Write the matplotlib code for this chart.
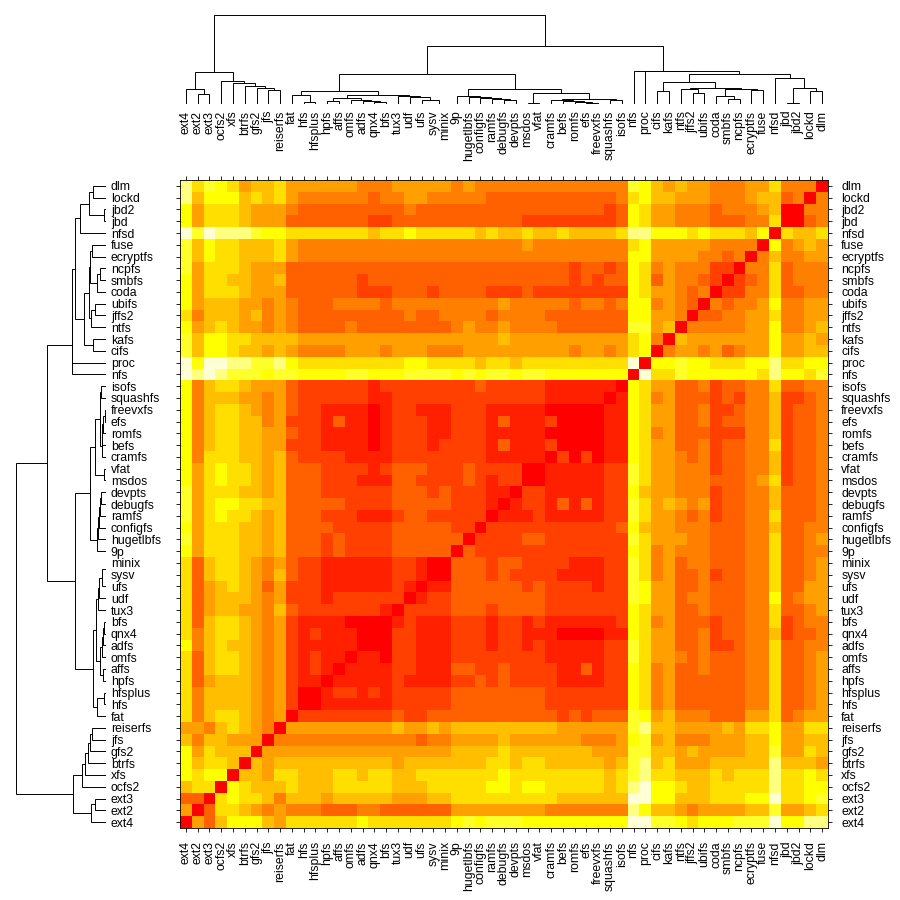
import numpy as np
import matplotlib
matplotlib.use('Agg')
import matplotlib.pyplot as plt
from matplotlib.colors import ListedColormap

plt.rcParams['font.family'] = ['Liberation Sans', 'DejaVu Sans']

# heat.colors(12), level 0 is the strongest similarity
HEAT = ['#FF0000', '#FF2000', '#FF4000', '#FF6000', '#FF8000', '#FF9F00',
        '#FFBF00', '#FFDF00', '#FFFF00', '#FFFF2A', '#FFFF80', '#FFFFD5']

# clustering tree: (left, right, merge height)
ext_group = (('ext4', ('ext2', 'ext3', 10.7), 15),
             ('ocfs2', ('xfs', ('btrfs', ('gfs2', ('jfs', 'reiserfs', 14), 16), 18), 21), 23.3), 32.3)
fat_group = ('fat', ('hfs', 'hfsplus', 2), 9)
hpfs_group = (('hpfs', 'affs', 3), ('omfs', ('adfs', ('qnx4', 'bfs', 2), 3), 4.3), 6)
tux_group = ('tux3', ('udf', ('ufs', ('sysv', 'minix', 0.3), 4.3), 7), 8.3)
disk_group = (fat_group, (hpfs_group, tux_group, 9.7), 13)
pseudo_group = ('9p', ('hugetlbfs', ('configfs', ('ramfs', ('debugfs', 'devpts', 4.5), 5.5), 6.5), 7.7), 8.7)
cram_group = (('cramfs', ('befs', ('romfs', ('efs', 'freevxfs', 1), 2.7), 3.7), 4.3),
              ('squashfs', 'isofs', 4.7), 5.7)
ro_group = (pseudo_group, (('msdos', 'vfat', 1.7), cram_group, 11.3), 15.7)
net_group = (('cifs', 'kafs', 13),
             (('ntfs', ('jffs2', 'ubifs', 11), 15),
              (('coda', ('smbfs', 'ncpfs', 5.7), 8.7), ('ecryptfs', 'fuse', 14), 15.7), 16.7), 22)
nfsd_group = ('nfsd', (('jbd', 'jbd2', 1.7), ('lockd', 'dlm', 13), 16.3), 26)
right_group = ('nfs', ('proc', (net_group, nfsd_group, 30), 33), 33.3)
TREE = (ext_group, ((disk_group, ro_group, 30.3), right_group, 57.7), 89)

# upper triangle of the matrix, row by row from ext4, each row starts on the diagonal
LEVELS = [
    '0536888657 7777787777 7778989998 88888888bb 9987888999 b88aa',
    '037765454 4433344333 3335555555 54444444a8 6654555566 95567',
    '07877646 6656666655 5667777777 77666666bb 8866677788 b7789',
    '0876667 6667777766 6777778878 87777767ab 8876677777 a7788',
    '066577 6667767766 7777777877 777777679a 7766676777 a7787',
    '06566 6666666656 6666667767 766666569a 6755566666 a6665',
    '0555 5555555555 5556666766 6666655599 6656555566 95576',
    '044 4444444444 3445555655 5555444589 5644455566 85566',
    '05 5555555565 5656666666 665555559a 6655556577 85577',
    '0 2222222232 2333333333 3323233398 5644433355 73455',
    '0011111122 2223333333 3222222287 4533333344 73345',
    '012212122 2223333333 3222222287 4533333344 73345',
    '01111121 1112232322 2211112287 4533333344 73345',
    '0111122 1113322322 2211312287 4533433344 73345',
    '011022 1112222222 2111112297 5543433344 73345',
    '00022 1112221221 2111112297 5533422344 73344',
    '0022 1112221221 1100001187 5533423344 62334',
    '012 1112221221 2111111287 4533323344 72344',
    '02 2223332333 3222222287 5533433344 73345',
    '0 1223333333 3222222298 5534433344 83455',
    '0113333332 3222212298 5533433344 73355',
    '003332322 2211112297 4533423344 73345',
    '03332332 2221112297 4534433344 73345',
    '0322222 2222222287 4544433344 73344',
    '022223 3222222297 5554433344 73345',
    '02222 2222222386 5544433344 63344',
    '0111 2111112297 5543423344 73334',
    '012 2131312297 5654523344 63334',
    '02 2111112286 5544423344 63334',
    '0 0111112297 5544433345 72334',
    '0111112297 5544423344 62334',
    '020201187 5543423344 62334',
    '00001187 5533423344 72334',
    '0001187 4533322244 62334',
    '001187 5533423344 62334',
    '01187 5533422344 62334',
    '0187 4533323244 62234',
    '087 5533423344 73344',
    '0b 7798888887 a8879',
    '0 8898877788 a7788',
    '0455453455 85566',
    '065555555 85565',
    '04444455 84456',
    '0334455 74455',
    '043445 84455',
    '02244 73344',
    '0234 73444',
    '044 73444',
    '04 64455',
    '0 84565',
    '07667',
    '0034',
    '044',
    '04',
    '0',
]


def leaf_names(node):
    if isinstance(node, str):
        return [node]
    return leaf_names(node[0]) + leaf_names(node[1])


def draw_tree(ax, node, pos, flip=False):
    # returns centre and height of this node
    if isinstance(node, str):
        return pos[node], 0
    c1, h1 = draw_tree(ax, node[0], pos, flip)
    c2, h2 = draw_tree(ax, node[1], pos, flip)
    h = node[2]
    xs = [c1, c1, c2, c2]
    ys = [h1, h, h, h2]
    if flip:
        ax.plot(ys, xs, color='black', lw=0.7, solid_joinstyle='miter')
    else:
        ax.plot(xs, ys, color='black', lw=0.7, solid_joinstyle='miter')
    return (c1 + c2) / 2, h


labels = leaf_names(TREE)
n = len(labels)
pos = {name: i for i, name in enumerate(labels)}

mat = np.zeros((n, n), dtype=int)
for r, row in enumerate(LEVELS):
    row = row.replace(' ', '')
    if len(row) != n - r:
        print('bad row', r, len(row))
    for k, ch in enumerate(row):
        mat[r, r + k] = int(ch, 12)
        mat[r + k, r] = int(ch, 12)

fig = plt.figure(figsize=(9, 9), dpi=100)


def px_axes(left, top, right, bottom):
    return fig.add_axes([left / 900, (900 - bottom) / 900, (right - left) / 900, (bottom - top) / 900])


ax = px_axes(180, 180, 828, 828)
ax.imshow(mat, origin='lower', aspect='auto', interpolation='nearest',
          cmap=ListedColormap(HEAT), vmin=0, vmax=11)
ax.set_xlim(-0.5, n - 0.5)
ax.set_ylim(-0.5, n - 0.5)
ax.set_xticks(range(n))
ax.set_yticks(range(n))
ax.set_xticklabels(labels, rotation=90, fontsize=8.8)
ax.set_yticklabels(labels, fontsize=8.8)
ax.tick_params(top=True, bottom=True, left=True, right=True, labelleft=False, labelright=True,
               length=3, width=0.6, pad=6.5)
for s in ax.spines.values():
    s.set_linewidth(0.6)

# top tree
ax_top = px_axes(180, 15, 828, 104.3)
draw_tree(ax_top, TREE, pos)
ax_top.set_xlim(-0.5, n - 0.5)
ax_top.set_ylim(0, 89)
ax_top.set_xticks(range(n))
ax_top.set_xticklabels(labels, rotation=90, fontsize=8.8)
ax_top.set_yticks([])
ax_top.tick_params(length=0, pad=4.5)
for s in ax_top.spines.values():
    s.set_visible(False)

# left tree
ax_left = px_axes(15.5, 180, 106, 828)
draw_tree(ax_left, TREE, pos, flip=True)
ax_left.set_ylim(-0.5, n - 0.5)
ax_left.set_xlim(89, 0)
ax_left.set_yticks(range(n))
ax_left.set_yticklabels(labels, fontsize=8.8)
ax_left.yaxis.tick_right()
ax_left.set_xticks([])
ax_left.tick_params(length=0, pad=3.5)
for s in ax_left.spines.values():
    s.set_visible(False)

fig.savefig('out.png', dpi=100)
